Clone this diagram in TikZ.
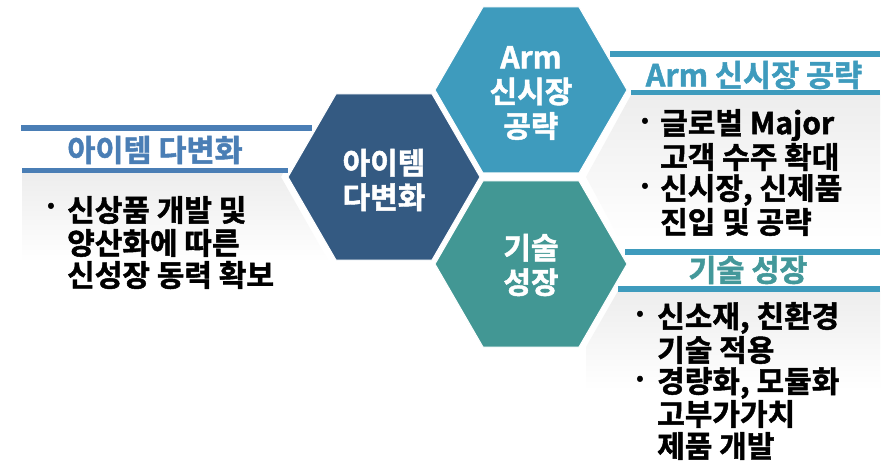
\documentclass[tikz,border=0pt]{standalone}
\usepackage{fontspec}
\setmainfont{Noto Sans CJK KR Bold}[FakeBold=1.5]
\definecolor{hexdark}{HTML}{345A82}
\definecolor{hexblue}{HTML}{3E9BBD}
\definecolor{hexteal}{HTML}{429794}
\definecolor{lineleft}{HTML}{4A7EB5}
\definecolor{titleteal}{HTML}{43989A}
\definecolor{panelgray}{HTML}{EDEDED}
\tikzset{
  hexfill/.style={draw=white, line width=1pt},
  hextext/.style={text=white, align=center, font=\fontsize{30}{34.5}\selectfont, inner sep=0pt},
  bar/.style={line width=5.5pt},
  titletext/.style={font=\fontsize{30.5}{34}\selectfont, inner sep=0pt},
  bodytext/.style={font=\fontsize{30}{32}\selectfont, inner sep=0pt, anchor=west},
  dotmark/.style={font=\fontsize{30}{32}\selectfont, inner sep=0pt},
  panel/.style={top color=panelgray, bottom color=white, draw=none}
}
\begin{document}
\begin{tikzpicture}[x=1pt,y=-1pt]
\useasboundingbox (0,0) rectangle (883,465);
\fill[white] (0,0) rectangle (883,465);
% gray panels
\shade[panel] (22,173) -- (283,173) -- (281,177) -- (329,262) -- (22,262) -- cycle;
\shade[panel] (631,95) -- (880,95) -- (880,240) -- (620,240) -- (586,177) -- cycle;
\shade[panel] (618,291) -- (880,291) -- (880,390) -- (586,390) -- (586,347) -- cycle;
% hexagons
\path[hexfill, fill=hexdark] (288,177) -- (336,94) -- (432,94) -- (480,177) -- (432,260) -- (336,260) -- cycle;
\path[hexfill, fill=hexblue] (435,90) -- (483,7) -- (579,7) -- (627,90) -- (579,173) -- (483,173) -- cycle;
\path[hexfill, fill=hexteal] (435,264) -- (483,181) -- (579,181) -- (627,264) -- (579,347) -- (483,347) -- cycle;
\node[hextext] (hdark) at (384,180) {아이템\\다변화};
\node[hextext] (harm) at (531,93) {Arm\\신시장\\공략};
\node[hextext] (htech) at (531,265) {기술\\성장};
% left panel bars
\coordinate (l1a) at (21,128); \coordinate (l1b) at (312,128);
\coordinate (l2a) at (22,170.5); \coordinate (l2b) at (288,170.5);
\draw[bar, lineleft] (l1a) -- (l1b);
\draw[bar, lineleft] (l2a) -- (l2b);
\node[titletext, text=lineleft] (tleft) at (155,150) {아이템 다변화};
\node[dotmark] (dl1) at (51,210) {·};
\node[bodytext] (bl1) at (67,210) {신상품 개발 및};
\node[bodytext] (bl2) at (67,243) {양산화에 따른};
\node[bodytext] (bl3) at (67,275) {신성장 동력 확보};
% right top panel bars
\coordinate (r1a) at (610,54); \coordinate (r1b) at (880,54);
\coordinate (r2a) at (631,92.5); \coordinate (r2b) at (880,92.5);
\draw[bar, hexblue] (r1a) -- (r1b);
\draw[bar, hexblue] (r2a) -- (r2b);
\node[titletext, text=hexblue] (tarm) at (754,75) {Arm 신시장 공략};
\node[dotmark] (da1) at (645,125) {·};
\node[bodytext] (ba1) at (660,125) {글로벌 Major};
\node[bodytext] (ba2) at (660,157) {고객 수주 확대};
\node[dotmark] (da2) at (645,190) {·};
\node[bodytext] (ba3) at (660,190) {신시장, 신제품};
\node[bodytext] (ba4) at (660,222) {진입 및 공략};
% right bottom panel bars
\coordinate (s1a) at (625,252); \coordinate (s1b) at (880,252);
\coordinate (s2a) at (618,289); \coordinate (s2b) at (880,289);
\draw[bar, hexblue] (s1a) -- (s1b);
\draw[bar, hexblue] (s2a) -- (s2b);
\node[titletext, text=titleteal] (ttech) at (748,270) {기술 성장};
\node[dotmark] (dt1) at (640,318) {·};
\node[bodytext] (bt1) at (657,318) {신소재, 친환경};
\node[bodytext] (bt2) at (657,350) {기술 적용};
\node[dotmark] (dt2) at (640,383) {·};
\node[bodytext] (bt3) at (657,383) {경량화, 모듈화};
\node[bodytext] (bt4) at (657,414) {고부가가치};
\node[bodytext] (bt5) at (657,446) {제품 개발};
\end{tikzpicture}
\end{document}
